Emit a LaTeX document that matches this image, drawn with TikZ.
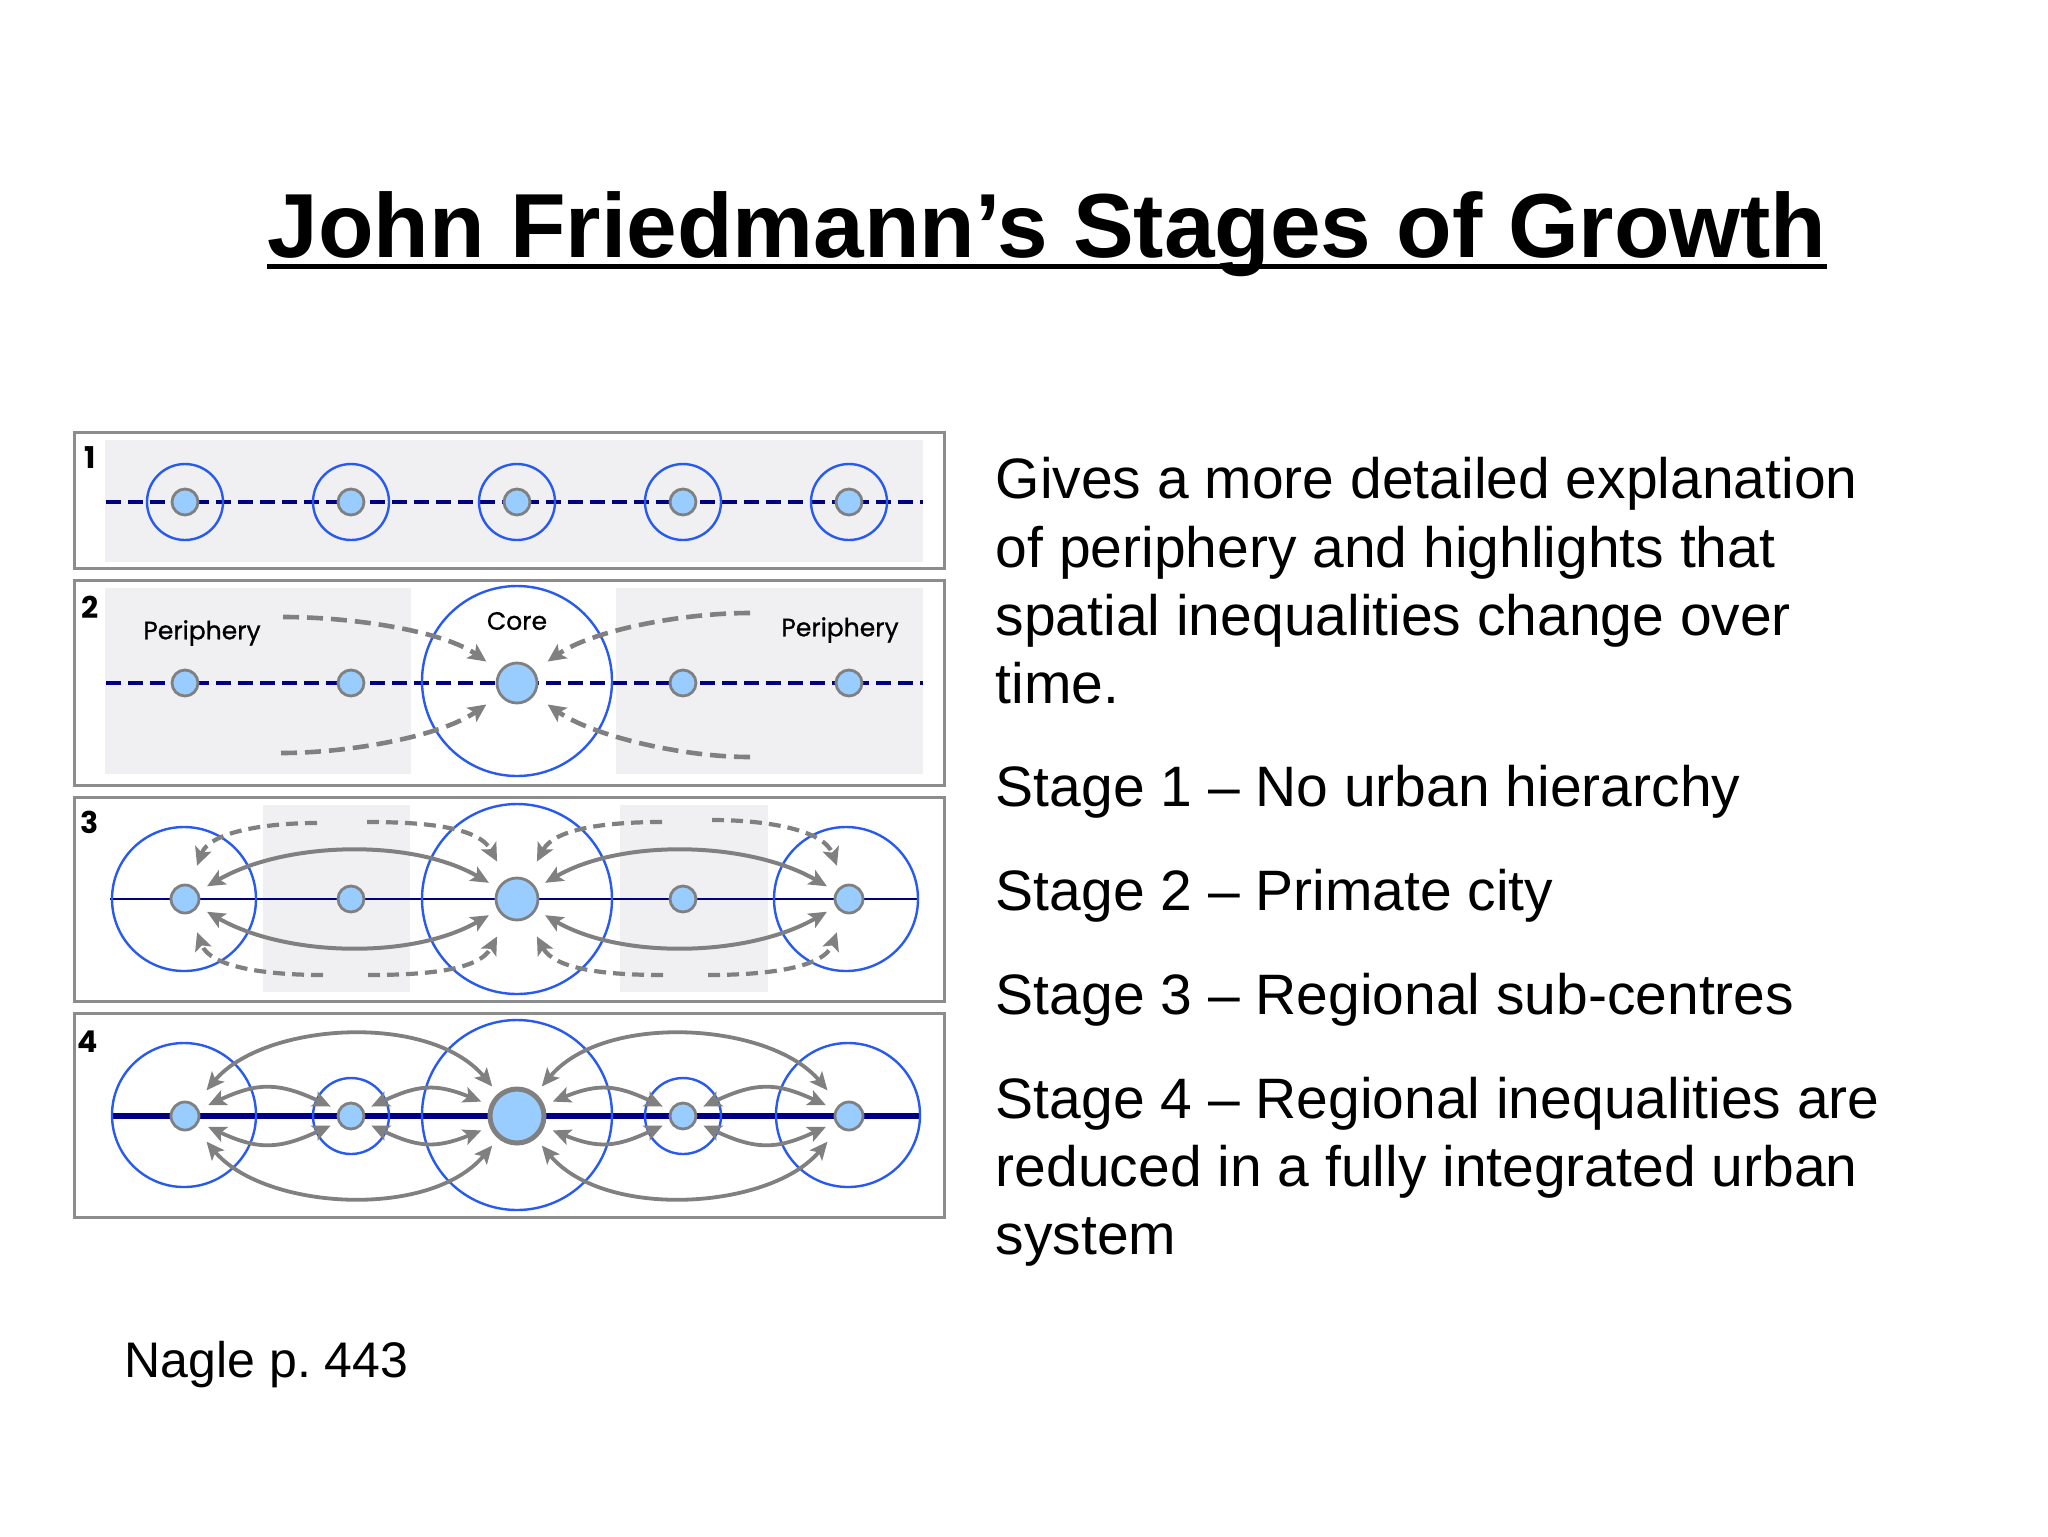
\documentclass[tikz,border=0pt]{standalone}
\usepackage{fontspec}
\setmainfont{Liberation Sans}
\newfontfamily\gothicfont{Poppins}
\newfontfamily\gothicmid[FakeBold=0.9]{Poppins}
\usetikzlibrary{arrows.meta}
\tikzset{every picture/.style={line width=0.75pt}}
\definecolor{ringblue}{RGB}{40,90,240}
\definecolor{cityfill}{RGB}{153,204,255}
\definecolor{citygray}{RGB}{128,128,128}
\definecolor{flowgray}{RGB}{128,128,128}
\definecolor{roadnavy}{RGB}{0,0,128}
\definecolor{zonegray}{RGB}{240,240,242}
\definecolor{boxgray}{RGB}{140,140,140}

\begin{document}
\begin{tikzpicture}[x=0.5pt,y=-0.5pt,>={Stealth[length=9pt,width=8pt,inset=2pt]},
  city/.style={circle,draw=citygray,fill=cityfill,line width=1.4pt,inner sep=0pt,minimum size=#1},
  ring/.style={circle,draw=ringblue,line width=1.2pt,inner sep=0pt,minimum size=#1},
  panel/.style={draw=boxgray,line width=1.5pt},
  greyzone/.style={fill=zonegray},
  dashroad/.style={draw=roadnavy,line width=2.2pt,dash pattern=on 7.5pt off 3.5pt},
  road/.style={draw=roadnavy,line width=#1},
  flow/.style={draw=flowgray,line width=2pt,<->},
  flowdash/.style={draw=flowgray,line width=2.1pt,dash pattern=on 6pt off 3.5pt,-{Stealth[length=9pt,width=8.5pt,inset=2pt]}},
  bodytext/.style={anchor=base west,inner sep=0pt,font=\fontsize{28.5}{34}\selectfont},
  stagenum/.style={inner sep=0pt,font=\gothicfont\bfseries\fontsize{15}{17}\selectfont},
  regionlabel/.style={inner sep=0pt,font=\gothicmid\fontsize{12.5}{14}\selectfont}]
%set diagram to the slide size 2048 x 1536
\fill[white] (0,0) rectangle (2048,1536);
\useasboundingbox (0,0) rectangle (2048,1536);

% Text Node
\node[anchor=base,inner sep=0pt,font=\bfseries\fontsize{45.5}{50}\selectfont] (title) at (1047,257) {John Friedmann’s Stages of Growth};
%Straight Lines
\draw[line width=2.5pt] ([yshift=-4.5pt]title.base west) -- ([yshift=-4.5pt]title.base east);

%Shape: Rectangle
\draw[panel] (74,432) rectangle (944,568);
\fill[greyzone] (105,440) rectangle (923,562);
% Text Node
\node[stagenum] (s1) at (90,458) {1};
%Straight Lines
\coordinate (a0) at (106,502);
\coordinate (a6) at (923,502);
\draw[dashroad] (a0) -- (a6);
%Shape: Circle
\node[ring=38pt] (ra1) at (185,502) {};
\node[ring=38pt] (ra2) at (351,502) {};
\node[ring=38pt] (ra3) at (517,502) {};
\node[ring=38pt] (ra4) at (683,502) {};
\node[ring=38pt] (ra5) at (849,502) {};
\node[city=13pt] (a1) at (185,502) {};
\node[city=13pt] (a2) at (351,502) {};
\node[city=13pt] (a3) at (517,502) {};
\node[city=13pt] (a4) at (683,502) {};
\node[city=13pt] (a5) at (849,502) {};

%Shape: Rectangle
\draw[panel] (74,580) rectangle (944,785);
\fill[greyzone] (105,588) rectangle (411,774);
\fill[greyzone] (616,588) rectangle (923,774);
% Text Node
\node[stagenum] (s2) at (90,607) {2};
%Straight Lines
\coordinate (b0) at (106,683);
\coordinate (b6) at (923,683);
\draw[dashroad] (b0) -- (b6);
%Shape: Circle
\node[ring=95pt] (rb3) at (517,681) {};
\node[city=13pt] (b1) at (185,683) {};
\node[city=13pt] (b2) at (351,683) {};
\node[city=20pt] (b3) at (517,683) {};
\node[city=13pt] (b4) at (683,683) {};
\node[city=13pt] (b5) at (849,683) {};
% Text Node
\node[regionlabel] (lperi) at (202,633) {Periphery};
\node[regionlabel] (core) at (517,621) {Core};
\node[regionlabel] (rperi) at (840,630) {Periphery};
%Curve Lines
\coordinate (p1) at (283,617);
\coordinate (p2) at (281,753);
\coordinate (p3) at (750,613);
\coordinate (p4) at (750,757);
\draw[flowdash,line width=2.3pt,dash pattern=on 8pt off 4pt,shorten >=8pt] (p1) to[out=0,in=145,looseness=0.8] (b3);
\draw[flowdash,line width=2.3pt,dash pattern=on 8pt off 4pt,shorten >=8pt] (p2) to[out=0,in=-145,looseness=0.8] (b3);
\draw[flowdash,line width=2.3pt,dash pattern=on 8pt off 4pt,shorten >=8pt] (p3) to[out=180,in=35,looseness=0.8] (b3);
\draw[flowdash,line width=2.3pt,dash pattern=on 8pt off 4pt,shorten >=8pt] (p4) to[out=180,in=-35,looseness=0.8] (b3);

%Shape: Rectangle
\draw[panel] (74,797) rectangle (944,1001);
\fill[greyzone] (263,805) rectangle (410,992);
\fill[greyzone] (620,805) rectangle (768,992);
% Text Node
\node[stagenum] (s3) at (90,822) {3};
%Straight Lines
\coordinate (c0) at (110,899);
\coordinate (c6) at (917,899);
\draw[road=1.3pt] (c0) -- (c6);
%Shape: Circle
\node[ring=72pt] (rc1) at (184,899) {};
\node[ring=95pt] (rc3) at (517,899) {};
\node[ring=72pt] (rc5) at (846,899) {};
\node[city=14pt] (c1) at (185,899) {};
\node[city=13pt] (c2) at (351,899) {};
\node[city=21pt] (c3) at (517,899) {};
\node[city=13pt] (c4) at (683,899) {};
\node[city=14pt] (c5) at (849,899) {};
%Curve Lines
\draw[flow,shorten <=5pt,shorten >=5pt] (c1) to[out=30,in=150,looseness=0.85] (c3);
\draw[flow,shorten <=5pt,shorten >=5pt] (c1) to[out=-30,in=-150,looseness=0.85] (c3);
\draw[flow,shorten <=5pt,shorten >=5pt] (c3) to[out=30,in=150,looseness=0.85] (c5);
\draw[flow,shorten <=5pt,shorten >=5pt] (c3) to[out=-30,in=-150,looseness=0.85] (c5);
\coordinate (q1) at (317,823);
\coordinate (q2) at (367,822);
\coordinate (q3) at (323,975);
\coordinate (q4) at (368,975);
\coordinate (q5) at (662,822);
\coordinate (q6) at (712,820);
\coordinate (q7) at (663,975);
\coordinate (q8) at (708,975);
\draw[flowdash,shorten >=10pt] (q1) to[out=180,in=70] (c1);
\draw[flowdash,shorten >=10pt] (q2) to[out=0,in=118] (c3);
\draw[flowdash,shorten >=10pt] (q3) to[out=180,in=-70] (c1);
\draw[flowdash,shorten >=10pt] (q4) to[out=0,in=-118] (c3);
\draw[flowdash,shorten >=10pt] (q5) to[out=180,in=62] (c3);
\draw[flowdash,shorten >=10pt] (q6) to[out=0,in=110] (c5);
\draw[flowdash,shorten >=10pt] (q7) to[out=180,in=-62] (c3);
\draw[flowdash,shorten >=10pt] (q8) to[out=0,in=-110] (c5);

%Shape: Rectangle
\draw[panel] (74,1013) rectangle (944,1217);
% Text Node
\node[stagenum] (s4) at (88,1042) {4};
%Straight Lines
\coordinate (d0) at (112,1116);
\coordinate (d6) at (920,1116);
\draw[road=3pt] (d0) -- (d6);
%Shape: Circle
\node[ring=72pt] (rd1) at (184,1115) {};
\node[ring=38pt] (rd2) at (351,1116) {};
\node[ring=95pt] (rd3) at (517,1115) {};
\node[ring=38pt] (rd4) at (683,1116) {};
\node[ring=72pt] (rd5) at (848,1115) {};
\node[city=14pt] (d1) at (185,1116) {};
\node[city=13pt] (d2) at (351,1116) {};
\node[city=27pt,line width=2.5pt] (d3) at (517,1116) {};
\node[city=13pt] (d4) at (683,1116) {};
\node[city=14pt] (d5) at (849,1116) {};
%Curve Lines
\draw[flow,line width=1.9pt,shorten <=9pt,shorten >=4.5pt] (d1) to[out=50,in=130,looseness=0.9] (d3);
\draw[flow,line width=1.9pt,shorten <=9pt,shorten >=4.5pt] (d1) to[out=-50,in=-130,looseness=0.9] (d3);
\draw[flow,line width=1.9pt,shorten <=4.5pt,shorten >=9pt] (d3) to[out=50,in=130,looseness=0.9] (d5);
\draw[flow,line width=1.9pt,shorten <=4.5pt,shorten >=9pt] (d3) to[out=-50,in=-130,looseness=0.9] (d5);
\draw[flow,line width=1.9pt,shorten <=5pt,shorten >=4pt] (d1) to[out=25,in=155,looseness=1.2] (d2);
\draw[flow,line width=1.9pt,shorten <=5pt,shorten >=4pt] (d1) to[out=-25,in=-155,looseness=1.2] (d2);
\draw[flow,line width=1.9pt,shorten <=4pt,shorten >=4.5pt] (d2) to[out=25,in=158,looseness=1.2] (d3);
\draw[flow,line width=1.9pt,shorten <=4pt,shorten >=4.5pt] (d2) to[out=-25,in=-158,looseness=1.2] (d3);
\draw[flow,line width=1.9pt,shorten <=4.5pt,shorten >=4pt] (d3) to[out=22,in=155,looseness=1.2] (d4);
\draw[flow,line width=1.9pt,shorten <=4.5pt,shorten >=4pt] (d3) to[out=-22,in=-155,looseness=1.2] (d4);
\draw[flow,line width=1.9pt,shorten <=4pt,shorten >=5pt] (d4) to[out=25,in=155,looseness=1.2] (d5);
\draw[flow,line width=1.9pt,shorten <=4pt,shorten >=5pt] (d4) to[out=-25,in=-155,looseness=1.2] (d5);

% Text Node
\node[bodytext] (txta) at (995,498) {Gives a more detailed explanation};
\node[bodytext] (txtb) at (995,567) {of periphery and highlights that};
\node[bodytext] (txtc) at (995,635) {spatial inequalities change over};
\node[bodytext] (txtd) at (995,703) {time.};
\node[bodytext] (stage1) at (995,806) {Stage 1 – No urban hierarchy};
\node[bodytext] (stage2) at (995,910) {Stage 2 – Primate city};
\node[bodytext] (stage3) at (995,1014) {Stage 3 – Regional sub-centres};
\node[bodytext] (stage4) at (995,1118) {Stage 4 – Regional inequalities are};
\node[bodytext] (stage4b) at (995,1186) {reduced in a fully integrated urban};
\node[bodytext] (stage4c) at (995,1254) {system};
\node[bodytext,font=\fontsize{25}{30}\selectfont] (source) at (124,1377) {Nagle p.\ 443};
\end{tikzpicture}
\end{document}
